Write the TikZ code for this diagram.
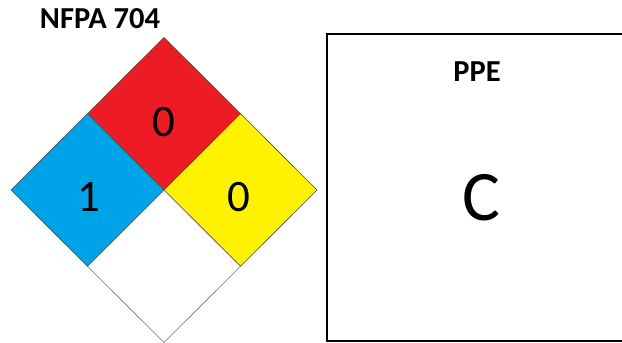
\documentclass[tikz,border=0pt]{standalone}
\usepackage{fontspec}
\setmainfont{Carlito}
\usetikzlibrary{calc}
\begin{document}
\begin{tikzpicture}[x=1pt,y=-1pt,
  cell/.style={draw=black!70,line width=0.6pt,line join=miter},
  digit/.style={font=\fontsize{45}{45}\selectfont,text=black,inner sep=0pt},
  title/.style={font=\bfseries\fontsize{30.5}{30.5}\selectfont,inner sep=0pt}]
\useasboundingbox (0,0) rectangle (622,343);
\begin{scope}
\clip (0,0) rectangle (622,343);
% diamond corners
\coordinate (T) at (164,37.5);
\coordinate (L) at (11,190);
\coordinate (R) at (317,190);
\coordinate (B) at (164,342.5);
\coordinate (C) at (164,190);
\coordinate (TL) at ($(T)!0.5!(L)$);
\coordinate (TR) at ($(T)!0.5!(R)$);
\coordinate (BL) at ($(B)!0.5!(L)$);
\coordinate (BR) at ($(B)!0.5!(R)$);
\fill[white] (T) -- (R) -- (B) -- (L) -- cycle;
\filldraw[cell,fill={rgb,255:red,237;green,28;blue,36}] (T) -- (TR) -- (C) -- (TL) -- cycle;
\filldraw[cell,fill={rgb,255:red,0;green,162;blue,232}] (L) -- (TL) -- (C) -- (BL) -- cycle;
\filldraw[cell,fill={rgb,255:red,255;green,242;blue,0}] (R) -- (TR) -- (C) -- (BR) -- cycle;
\draw[cell,draw=black!55] (C) -- (BR) -- (B) -- (BL) -- cycle;
% PPE box
\draw[line width=2pt] (327,33.5) rectangle (640,340.5);
\end{scope}
\node[title] (nfpa) at (100,19) {NFPA 704};
\node[digit] (fire) at (164,122) {0};
\node[digit] (health) at (89,197) {1};
\node[digit] (react) at (239,197) {0};
\node[title] (ppe) at (477,72) {PPE};
\node[font=\fontsize{71}{71}\selectfont,inner sep=0pt] (ppec) at (481,198) {C};
\end{tikzpicture}
\end{document}
